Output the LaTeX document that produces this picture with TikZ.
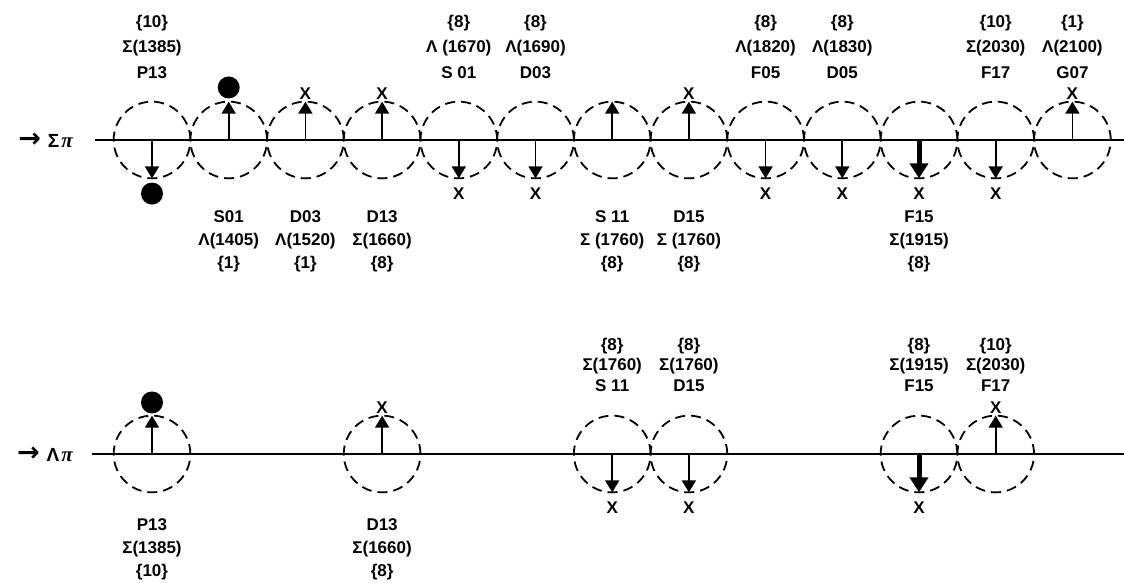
\documentclass[tikz,border=0pt]{standalone}
\usepackage{fontspec}
\setmainfont{Liberation Sans}
\newfontfamily\arrowfont{DejaVu Sans}
\newfontfamily\pisymfont{Liberation Serif}
\usetikzlibrary{arrows.meta,positioning}

\begin{document}
\begin{tikzpicture}[
  x=1pt,y=-1pt,
  node distance=0pt,
  font=\bfseries\fontsize{17}{20}\selectfont,
  axis/.style={line width=2.5pt},
  res/.style={circle,draw,line width=1.8pt,dash pattern=on 10pt off 6pt,minimum size=76.7pt,inner sep=0pt,outer sep=0pt},
  amp/.style={line width=1.7pt,-{Triangle[length=12pt,width=14pt]}},
  bigamp/.style={line width=5pt,-{Triangle[length=15pt,width=18pt]}},
  xmark/.style={inner sep=0pt},
  dot/.style={circle,fill,inner sep=0pt,minimum size=22pt},
  chan/.style={inner sep=0pt,font=\bfseries\fontsize{19}{19}\selectfont},
  tag/.style={align=center,inner sep=0pt},
  tagtop/.style={tag,font=\bfseries\fontsize{17}{25.5}\selectfont},
  tagbot/.style={tag,font=\bfseries\fontsize{17}{23}\selectfont},
  taglow/.style={tag,font=\bfseries\fontsize{17}{20.5}\selectfont}
]
\useasboundingbox (0,0) rectangle (1124,582);

% Sigma pi channel
\coordinate (a0) at (95,140);
\coordinate (a1) at (1124,140);
\draw[axis] (a0) -- (a1);
\node[chan,left=22pt of a0] (sp) {{\arrowfont\fontsize{27}{27}\selectfont →}\hspace{7pt}Σ\hspace{2pt}{\pisymfont\itshape\fontsize{21}{21}\selectfont π}};

\node[res] (r1385) at (152,140) {};
\node[res,right=of r1385] (r1405) {};
\node[res,right=of r1405] (r1520) {};
\node[res,right=of r1520] (r1660) {};
\node[res,right=of r1660] (r1670) {};
\node[res,right=of r1670] (r1690) {};
\node[res,right=of r1690] (r1760s) {};
\node[res,right=of r1760s] (r1760d) {};
\node[res,right=of r1760d] (r1820) {};
\node[res,right=of r1820] (r1830) {};
\node[res,right=of r1830] (r1915) {};
\node[res,right=of r1915] (r2030) {};
\node[res,right=of r2030] (r2100) {};

\draw[amp] (r1385.center) -- (r1385.south);
\draw[amp] (r1405.center) -- (r1405.north);
\draw[amp] (r1520.center) -- (r1520.north);
\draw[amp] (r1660.center) -- (r1660.north);
\draw[amp] (r1670.center) -- (r1670.south);
\draw[amp] (r1690.center) -- (r1690.south);
\draw[amp] (r1760s.center) -- (r1760s.north);
\draw[amp] (r1760d.center) -- (r1760d.north);
\draw[amp] (r1820.center) -- (r1820.south);
\draw[amp] (r1830.center) -- (r1830.south);
\draw[bigamp] (r1915.center) -- (r1915.south);
\draw[amp] (r2030.center) -- (r2030.south);
\draw[amp] (r2100.center) -- (r2100.north);

\node[dot,below=4pt of r1385] (d1385) {};
\node[dot,above=3pt of r1405] (d1405) {};
\node[xmark,above=2pt of r1520] (x1520) {X};
\node[xmark,above=2pt of r1660] (x1660) {X};
\node[xmark,below=9pt of r1670] (x1670) {X};
\node[xmark,below=9pt of r1690] (x1690) {X};
\node[xmark,above=2pt of r1760d] (x1760d) {X};
\node[xmark,below=9pt of r1820] (x1820) {X};
\node[xmark,below=9pt of r1830] (x1830) {X};
\node[xmark,below=9pt of r1915] (x1915) {X};
\node[xmark,below=9pt of r2030] (x2030) {X};
\node[xmark,above=2pt of r2100] (x2100) {X};

\node[tagtop,above=23pt of r1385] (t1385) {\{10\}\\Σ(1385)\\P13};
\node[tagtop,above=23pt of r1670] (t1670) {\{8\}\\Λ (1670)\\S 01};
\node[tagtop,above=23pt of r1690] (t1690) {\{8\}\\Λ(1690)\\D03};
\node[tagtop,above=23pt of r1820] (t1820) {\{8\}\\Λ(1820)\\F05};
\node[tagtop,above=23pt of r1830] (t1830) {\{8\}\\Λ(1830)\\D05};
\node[tagtop,above=23pt of r2030] (t2030) {\{10\}\\Σ(2030)\\F17};
\node[tagtop,above=23pt of r2100] (t2100) {\{1\}\\Λ(2100)\\G07};
\node[tagbot,below=32pt of r1405] (t1405) {S01\\Λ(1405)\\\{1\}};
\node[tagbot,below=32pt of r1520] (t1520) {D03\\Λ(1520)\\\{1\}};
\node[tagbot,below=32pt of r1660] (t1660) {D13\\Σ(1660)\\\{8\}};
\node[tagbot,below=32pt of r1760s] (t1760s) {S 11\\Σ (1760)\\\{8\}};
\node[tagbot,below=32pt of r1760d] (t1760d) {D15\\Σ (1760)\\\{8\}};
\node[tagbot,below=32pt of r1915] (t1915) {F15\\Σ(1915)\\\{8\}};

% Lambda pi channel
\coordinate (b0) at (92,454);
\coordinate (b1) at (1124,454);
\draw[axis] (b0) -- (b1);
\node[chan,left=19pt of b0] (lp) {{\arrowfont\fontsize{27}{27}\selectfont →}\hspace{7pt}Λ\hspace{2pt}{\pisymfont\itshape\fontsize{21}{21}\selectfont π}};

\node[res] (q1385) at (r1385 |- b0) {};
\node[res] (q1660) at (r1660 |- b0) {};
\node[res] (q1760s) at (r1760s |- b0) {};
\node[res] (q1760d) at (r1760d |- b0) {};
\node[res] (q1915) at (r1915 |- b0) {};
\node[res] (q2030) at (r2030 |- b0) {};

\draw[amp] (q1385.center) -- (q1385.north);
\draw[amp] (q1660.center) -- (q1660.north);
\draw[amp] (q1760s.center) -- (q1760s.south);
\draw[amp] (q1760d.center) -- (q1760d.south);
\draw[bigamp] (q1915.center) -- (q1915.south);
\draw[amp] (q2030.center) -- (q2030.north);

\node[dot,above=2pt of q1385] (e1385) {};
\node[xmark,above=2pt of q1660] (y1660) {X};
\node[xmark,below=9pt of q1760s] (y1760s) {X};
\node[xmark,below=9pt of q1760d] (y1760d) {X};
\node[xmark,below=9pt of q1915] (y1915) {X};
\node[xmark,above=2pt of q2030] (y2030) {X};

\node[taglow,above=24pt of q1760s] (u1760s) {\{8\}\\Σ(1760)\\S 11};
\node[taglow,above=24pt of q1760d] (u1760d) {\{8\}\\Σ(1760)\\D15};
\node[taglow,above=24pt of q1915] (u1915) {\{8\}\\Σ(1915)\\F15};
\node[taglow,above=24pt of q2030] (u2030) {\{10\}\\Σ(2030)\\F17};
\node[tagbot,below=26pt of q1385] (u1385) {P13\\Σ(1385)\\\{10\}};
\node[tagbot,below=26pt of q1660] (u1660) {D13\\Σ(1660)\\\{8\}};
\end{tikzpicture}
\end{document}
